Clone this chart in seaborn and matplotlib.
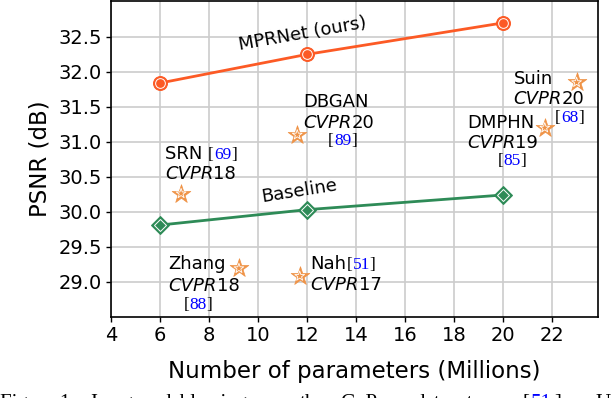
import numpy as np
import pandas as pd
import seaborn as sns
import matplotlib.pyplot as plt
from matplotlib.transforms import Affine2D

# params (millions) vs PSNR on GoPro
params = [6, 12, 20]
psnr_mprnet = [31.84, 32.25, 32.70]
psnr_baseline = [29.81, 30.03, 30.24]

others = ["SRN", "DBGAN", "Zhang", "Nah", "DMPHN", "Suin"]
others_params = [6.86, 11.6, 9.22, 11.7, 21.7, 23.0]
others_psnr = [30.26, 31.10, 29.19, 29.08, 31.20, 31.85]

xticks = [4, 6, 8, 10, 12, 14, 16, 18, 20, 22]
yticks = [29.0, 29.5, 30.0, 30.5, 31.0, 31.5, 32.0, 32.5]

orange = "#fc5a25"
green = "#2e8b57"
star = "#ef9347"
blue = "#0000ff"

sns.set_style("whitegrid", {"grid.color": "#cccccc", "axes.edgecolor": "black",
                            "xtick.bottom": True, "ytick.left": True,
                            "text.color": "black", "axes.labelcolor": "black",
                            "xtick.color": "black", "ytick.color": "black"})
plt.rcParams["font.family"] = ["DejaVu Sans"]

fig = plt.figure(figsize=(6.12, 3.98), dpi=100)
ax = fig.add_axes([0.1814, 0.2043, 0.7952, 0.7957 - 0.003])

df = pd.DataFrame({"params": params * 2,
                   "psnr": psnr_mprnet + psnr_baseline,
                   "model": ["MPRNet"] * 3 + ["Baseline"] * 3})
sns.lineplot(data=df[df.model == "MPRNet"], x="params", y="psnr", color=orange,
             marker="o", markersize=10, markeredgecolor=orange, linewidth=2,
             ax=ax)
sns.lineplot(data=df[df.model == "Baseline"], x="params", y="psnr", color=green,
             marker="D", markersize=9, markeredgecolor=green, linewidth=2,
             ax=ax)
# white inner rings on the markers
ax.plot(params, psnr_mprnet, "o", ms=7, mfc="none", mec="white", mew=0.7, ls="none")
ax.plot(params, psnr_baseline, "D", ms=6, mfc="none", mec="white", mew=0.7, ls="none")

sns.scatterplot(x=others_params, y=others_psnr, marker="*", s=200, color=star,
                edgecolor=star, linewidth=0.5, ax=ax, zorder=4)
ax.scatter(others_params, others_psnr, marker="*", s=55, facecolor="none",
           edgecolor="white", linewidth=0.6, zorder=5)

ax.set_xlim(4, 23.86)
ax.set_ylim(28.5, 33.01)
ax.set_xticks(xticks)
ax.set_yticks(yticks)
ax.set_yticklabels([f"{v:.1f}" for v in yticks])
ax.tick_params(labelsize=14, length=3.5, width=1, colors="black", pad=3)
for sp in ax.spines.values():
    sp.set_linewidth(1.2)
ax.grid(True, lw=1.2)
ax.set_xlabel("Number of parameters (Millions)", fontsize=16.5, labelpad=11)
ax.set_ylabel("PSNR (dB)", fontsize=16.5, labelpad=5)

ax.text(11.8, 32.54, "MPRNet (ours)", fontsize=13, rotation=10,
        ha="center", va="center", rotation_mode="anchor")
ax.text(11.67, 30.30, "Baseline", fontsize=13, rotation=9,
        ha="center", va="center", rotation_mode="anchor")

renderer = fig.canvas.get_renderer()


def rich(x, y, parts):
    # draw text pieces one after another on a common baseline
    t = ax.transData
    for s, kind in parts:
        kw = dict(fontsize=13, color="black")
        if kind == "it":
            kw["style"] = "italic"
        elif kind in ("br", "ref"):
            kw["family"] = "Liberation Serif"
            kw["fontsize"] = 12.5
            if kind == "ref":
                kw["color"] = blue
        txt = ax.text(x, y, s, transform=t, va="baseline", ha="left", **kw)
        w = txt.get_window_extent(renderer).width
        t = txt.get_transform() + Affine2D().translate(w, 0)


def cite(x, y, num):
    rich(x, y, [("[", "br"), (num, "ref"), ("]", "br")])


rich(6.20, 30.757, [("SRN ", ""), ("[", "br"), ("69", "ref"), ("]", "br")])
rich(6.20, 30.471, [("CVPR", "it"), ("18", "")])

rich(11.85, 31.50, [("DBGAN", "")])
rich(11.85, 31.20, [("CVPR", "it"), ("20", "")])
cite(12.86, 30.957, "89")

rich(6.34, 29.18, [("Zhang", "")])
rich(6.34, 28.87, [("CVPR", "it"), ("18", "")])
cite(6.95, 28.61, "88")

rich(12.15, 29.18, [("Nah", ""), ("[", "br"), ("51", "ref"), ("]", "br")])
rich(12.15, 28.88, [("CVPR", "it"), ("17", "")])

rich(18.52, 31.196, [("DMPHN", "")])
rich(18.52, 30.91, [("CVPR", "it"), ("19", "")])
cite(19.77, 30.67, "85")

rich(20.42, 31.824, [("Suin", "")])
rich(20.42, 31.539, [("CVPR", "it"), ("20", "")])
cite(22.12, 31.276, "68")

# caption line of the paper, cut by the bottom edge like in the source
cap_kw = dict(family="Liberation Serif", fontsize=15, va="baseline")
cap_y = -0.024
cap_words = [(0, "Figure 1:", "black"), (90, "Image", "black"),
             (160, "deblurring", "black"), (265, "on", "black"),
             (300, "the", "black"), (340, "GoPro", "black"),
             (414, "dataset", "black"), (522, "[", "black"),
             (531, "51", blue), (554, "].", "black"), (596, "U", "black")]
for px, word, col in cap_words:
    fig.text(px / 612, cap_y, word, color=col, **cap_kw)

fig.savefig("out.png", dpi=100)
